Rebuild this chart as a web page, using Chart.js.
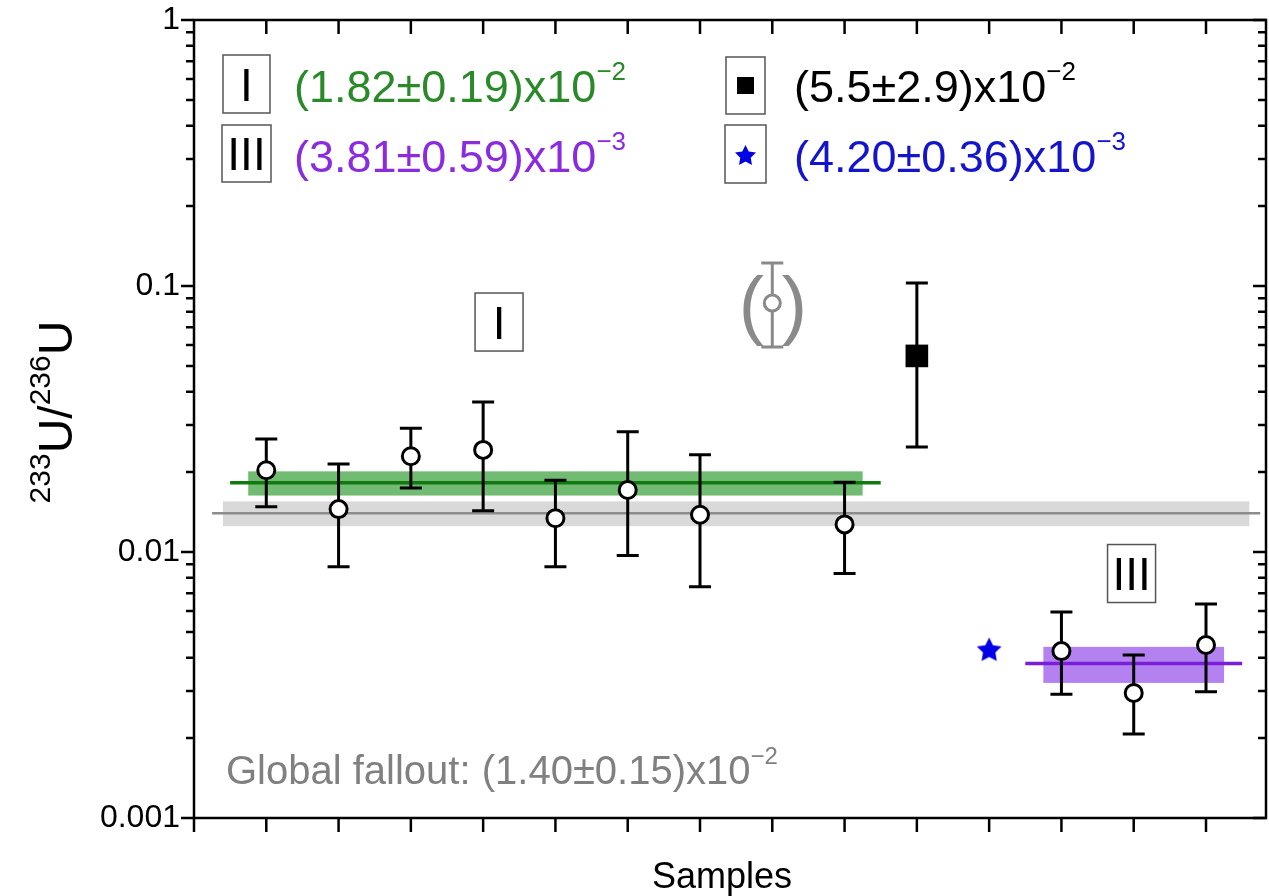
<!DOCTYPE html>
<html>
<head>
<meta charset="utf-8">
<script src="https://cdn.jsdelivr.net/npm/chart.js@4.4.1/dist/chart.umd.min.js"></script>
<style>
  html, body { margin: 0; padding: 0; background: #fff; overflow: hidden; }
  #wrap { width: 1269px; height: 896px; }
  canvas { display: block; }
</style>
</head>
<body>
<div id="wrap"><canvas id="chart" width="1269" height="896"></canvas></div>
<script>
// Region I samples (open circles)
const groupIX = [1, 2, 3, 4, 5, 6, 7, 9];
const groupIVal = [0.0203, 0.0145, 0.0229, 0.0242, 0.0134, 0.0171, 0.0138, 0.0127];
const groupIHi = [0.0266, 0.0214, 0.0292, 0.0366, 0.0186, 0.0283, 0.0232, 0.0183];
const groupILo = [0.0148, 0.0088, 0.0174, 0.0143, 0.0088, 0.0097, 0.0074, 0.0083];

// excluded sample, shown in brackets
const outlierX = [8];
const outlierVal = [0.0863];
const outlierHi = [0.122];
const outlierLo = [0.059];

// black square sample
const squareX = [10];
const squareVal = [0.0546];
const squareHi = [0.1026];
const squareLo = [0.0248];

// blue star sample
const starX = [11];
const starVal = [0.0043];

// Region III samples
const groupIIIX = [12, 13, 14];
const groupIIIVal = [0.00424, 0.00295, 0.00447];
const groupIIIHi = [0.00595, 0.0041, 0.00637];
const groupIIILo = [0.00292, 0.00207, 0.00298];

// weighted means with uncertainty: global fallout, region I, region III
const meanVal = [0.0140, 0.0182, 0.00381];
const meanErr = [0.0015, 0.0019, 0.00059];
const meanLineX = [[0.25, 14.75], [0.5, 9.5], [11.5, 14.5]];
const meanBandX = [[0.4, 14.6], [0.75, 9.25], [11.75, 14.25]];

// axis ticks
const yTickValues = [0.001, 0.01, 0.1, 1];
const yTickLabels = ['0.001', '0.01', '0.1', '1'];
const xTickValues = [0, 1, 2, 3, 4, 5, 6, 7, 8, 9, 10, 11, 12, 13, 14];

const FONT = '"Liberation Sans", Arial, sans-serif';
const GREEN = '#2a8a2a', PURPLE = '#8a2be0', BLUE = '#1414cc', GREY = '#808080';
const meanLineColor = ['#8c8c8c', '#107a10', '#7a1fd9'];
const meanBandColor = ['#d9d9d9', '#72bb72', '#b482f0'];

function starPath(ctx, cx, cy, rOut, rIn) {
    ctx.beginPath();
    for (let i = 0; i < 10; i++) {
        const r = i % 2 === 0 ? rOut : rIn;
        const a = -Math.PI / 2 + i * Math.PI / 5;
        const px = cx + r * Math.cos(a), py = cy + r * Math.sin(a);
        if (i === 0) ctx.moveTo(px, py); else ctx.lineTo(px, py);
    }
    ctx.closePath();
}

function makeStar(r, color) {
    const c = document.createElement('canvas');
    c.width = c.height = Math.ceil(2 * r + 4);
    const g = c.getContext('2d');
    g.fillStyle = color;
    starPath(g, c.width / 2, c.height / 2 + 1, r, r * 0.5);
    g.fill();
    return c;
}

// text with superscripts; parts = [[text, isSup], ...]
function richWidth(ctx, parts, size, supSize) {
    let w = 0;
    parts.forEach(([t, sup]) => {
        ctx.font = (sup ? supSize : size) + 'px ' + FONT;
        w += ctx.measureText(t).width;
    });
    return w;
}

function drawRich(ctx, x, y, parts, size, supSize, raise, color) {
    ctx.fillStyle = color;
    ctx.textBaseline = 'alphabetic';
    ctx.textAlign = 'left';
    parts.forEach(([t, sup]) => {
        ctx.font = (sup ? supSize : size) + 'px ' + FONT;
        ctx.fillText(t, x, sup ? y - raise : y);
        x += ctx.measureText(t).width;
    });
}

function labelBox(ctx, x0, y0, x1, y1, text, size) {
    ctx.fillStyle = '#fff';
    ctx.fillRect(x0, y0, x1 - x0, y1 - y0);
    ctx.strokeStyle = '#555';
    ctx.lineWidth = 1.5;
    ctx.strokeRect(x0, y0, x1 - x0, y1 - y0);
    if (text) {
        ctx.fillStyle = '#000';
        ctx.font = size + 'px ' + FONT;
        ctx.textAlign = 'center';
        ctx.textBaseline = 'alphabetic';
        ctx.fillText(text, (x0 + x1) / 2, (y0 + y1) / 2 + size * 0.36);
    }
}

// shaded uncertainty bands behind everything
const bandsPlugin = {
    id: 'bands',
    beforeDatasetsDraw(chart) {
        const { ctx, scales: { x, y } } = chart;
        ctx.save();
        meanVal.forEach((m, i) => {
            const x0 = x.getPixelForValue(meanBandX[i][0]);
            const x1 = x.getPixelForValue(meanBandX[i][1]);
            const yTop = y.getPixelForValue(m + meanErr[i]);
            const yBot = y.getPixelForValue(m - meanErr[i]);
            ctx.fillStyle = meanBandColor[i];
            ctx.fillRect(x0, yTop, x1 - x0, yBot - yTop);
        });
        ctx.restore();
    }
};

// vertical error bars, drawn just under their points
const errorBarsPlugin = {
    id: 'errorBars',
    beforeDatasetDraw(chart, args) {
        const ds = chart.data.datasets[args.index];
        if (!ds.errHi) return;
        const { ctx, scales: { y } } = chart;
        const cap = 11;
        ctx.save();
        ctx.strokeStyle = ds.borderColor;
        ctx.lineWidth = 3;
        args.meta.data.forEach((pt, i) => {
            const yHi = y.getPixelForValue(ds.errHi[i]);
            const yLo = y.getPixelForValue(ds.errLo[i]);
            ctx.beginPath();
            ctx.moveTo(pt.x, yHi); ctx.lineTo(pt.x, yLo);
            ctx.moveTo(pt.x - cap, yHi); ctx.lineTo(pt.x + cap, yHi);
            ctx.moveTo(pt.x - cap, yLo); ctx.lineTo(pt.x + cap, yLo);
            ctx.stroke();
        });
        ctx.restore();
    }
};

// frame, ticks, titles and annotations
const decorPlugin = {
    id: 'decor',
    afterDraw(chart) {
        const { ctx, chartArea: a, scales: { x, y } } = chart;
        ctx.save();
        ctx.strokeStyle = '#000';
        ctx.lineWidth = 2.5;
        ctx.lineCap = 'butt';

        // ticks
        ctx.beginPath();
        xTickValues.forEach(v => {
            const px = x.getPixelForValue(v);
            ctx.moveTo(px, a.bottom); ctx.lineTo(px, a.bottom + 14);
            if (v > 0) { ctx.moveTo(px, a.top); ctx.lineTo(px, a.top + 14); }
        });
        yTickValues.forEach((v, i) => {
            const py = y.getPixelForValue(v);
            ctx.moveTo(a.left - 13, py); ctx.lineTo(a.left, py);
            ctx.moveTo(a.right, py); ctx.lineTo(a.right - 13, py);
            if (i < yTickValues.length - 1) {
                for (let k = 2; k <= 9; k++) {
                    const pm = y.getPixelForValue(v * k);
                    ctx.moveTo(a.left - 8, pm); ctx.lineTo(a.left, pm);
                    ctx.moveTo(a.right, pm); ctx.lineTo(a.right - 8, pm);
                }
            }
        });
        ctx.stroke();

        // frame
        ctx.strokeRect(a.left, a.top, a.right - a.left, a.bottom - a.top);

        // axis titles
        ctx.fillStyle = '#000';
        ctx.font = '36px ' + FONT;
        ctx.textAlign = 'center';
        ctx.textBaseline = 'alphabetic';
        ctx.fillText('Samples', 722, 888);

        const yTitle = [['233', true], ['U', false], ['/', false], ['236', true], ['U', false]];
        ctx.save();
        ctx.translate(72, 412);
        ctx.rotate(-Math.PI / 2);
        const tw = richWidth(ctx, yTitle, 48, 30);
        drawRich(ctx, -tw / 2, 0, yTitle, 48, 30, 22, '#000');
        ctx.restore();

        // legend block
        labelBox(ctx, 223, 55, 270, 113, 'I', 46);
        labelBox(ctx, 222, 125, 271, 182, 'III', 46);
        labelBox(ctx, 726, 57, 765, 114, '', 0);
        labelBox(ctx, 725, 125, 766, 183, '', 0);
        ctx.fillStyle = '#000';
        ctx.fillRect(737, 77, 17, 17);
        ctx.fillStyle = '#0000e6';
        starPath(ctx, 745.5, 156, 11, 5.5);
        ctx.fill();

        drawRich(ctx, 294, 102, [['(1.82±0.19)x10', false], ['\u22122', true]], 45, 26, 22, GREEN);
        drawRich(ctx, 294, 172, [['(3.81±0.59)x10', false], ['\u22123', true]], 45, 26, 22, PURPLE);
        drawRich(ctx, 794, 102, [['(5.5±2.9)x10', false], ['\u22122', true]], 45, 26, 22, '#000');
        drawRich(ctx, 794, 172, [['(4.20±0.36)x10', false], ['\u22123', true]], 45, 26, 22, BLUE);
        drawRich(ctx, 226, 784, [['Global fallout: (1.40±0.15)x10', false], ['\u22122', true]], 40, 24, 20, GREY);

        // region labels inside the plot
        const ix = x.getPixelForValue(4.22), iy = y.getPixelForValue(0.0732);
        labelBox(ctx, ix - 24, iy - 29, ix + 24, iy + 29, 'I', 46);
        const iiix = x.getPixelForValue(12.97), iiiy = y.getPixelForValue(0.0083);
        labelBox(ctx, iiix - 24, iiiy - 29, iiix + 24, iiiy + 29, 'III', 46);

        // brackets round the excluded sample
        const ox = x.getPixelForValue(outlierX[0]), oy = y.getPixelForValue(outlierVal[0]);
        ctx.fillStyle = '#8a8a8a';
        ctx.font = '76px ' + FONT;
        ctx.textAlign = 'center';
        ctx.fillText('(', ox - 21, oy + 27);
        ctx.fillText(')', ox + 22, oy + 27);

        ctx.restore();
    }
};

function pts(xs, ys) {
    return xs.map((v, i) => ({ x: v, y: ys[i] }));
}

const lineDatasets = meanVal.map((m, i) => ({
    type: 'line',
    data: [{ x: meanLineX[i][0], y: m }, { x: meanLineX[i][1], y: m }],
    borderColor: meanLineColor[i],
    borderWidth: i === 0 ? 2.5 : 3.5,
    pointRadius: 0,
    order: 5
}));

const circleStyle = {
    pointStyle: 'circle',
    pointRadius: 8.5,
    pointBorderWidth: 3,
    pointBackgroundColor: '#fff',
    borderColor: '#000',
    pointBorderColor: '#000',
    order: 0
};

new Chart(document.getElementById('chart'), {
    type: 'scatter',
    data: {
        datasets: [
            ...lineDatasets,
            Object.assign({}, circleStyle, { data: pts(groupIX, groupIVal), errHi: groupIHi, errLo: groupILo }),
            Object.assign({}, circleStyle, { data: pts(groupIIIX, groupIIIVal), errHi: groupIIIHi, errLo: groupIIILo }),
            Object.assign({}, circleStyle, {
                data: pts(outlierX, outlierVal), errHi: outlierHi, errLo: outlierLo,
                borderColor: '#8a8a8a', pointBorderColor: '#8a8a8a', pointRadius: 8
            }),
            {
                data: pts(squareX, squareVal), errHi: squareHi, errLo: squareLo,
                pointStyle: 'rect', pointRadius: 16, pointBorderWidth: 0,
                pointBackgroundColor: '#000', borderColor: '#000', order: 0
            },
            {
                data: pts(starX, starVal),
                pointStyle: makeStar(13, '#0000e6'), pointRadius: 13, order: 0
            }
        ]
    },
    options: {
        responsive: false,
        animation: false,
        devicePixelRatio: 1,
        layout: { autoPadding: false, padding: { top: 20, right: 3, left: 0, bottom: 0 } },
        plugins: { legend: { display: false }, tooltip: { enabled: false } },
        scales: {
            x: {
                type: 'linear',
                min: 0,
                max: 14.83,
                afterFit(scale) {
                    scale.height = 78;
                    scale.paddingLeft = 0; scale.paddingRight = 0;
                },
                ticks: { display: false },
                grid: { display: false, drawTicks: false },
                border: { display: false }
            },
            y: {
                type: 'logarithmic',
                min: 0.001,
                max: 1,
                afterFit(scale) {
                    scale.width = 194;
                    scale.paddingTop = 0; scale.paddingBottom = 0;
                },
                afterBuildTicks(scale) { scale.ticks = yTickValues.map(v => ({ value: v })); },
                ticks: {
                    padding: 14,
                    color: '#000',
                    font: { family: FONT, size: 32 },
                    callback(value) {
                        const i = yTickValues.findIndex(t => Math.abs(t - value) / t < 1e-6);
                        return i >= 0 ? yTickLabels[i] : '';
                    }
                },
                grid: { display: false, drawTicks: false },
                border: { display: false }
            }
        }
    },
    plugins: [bandsPlugin, errorBarsPlugin, decorPlugin]
});
</script>
</body>
</html>
